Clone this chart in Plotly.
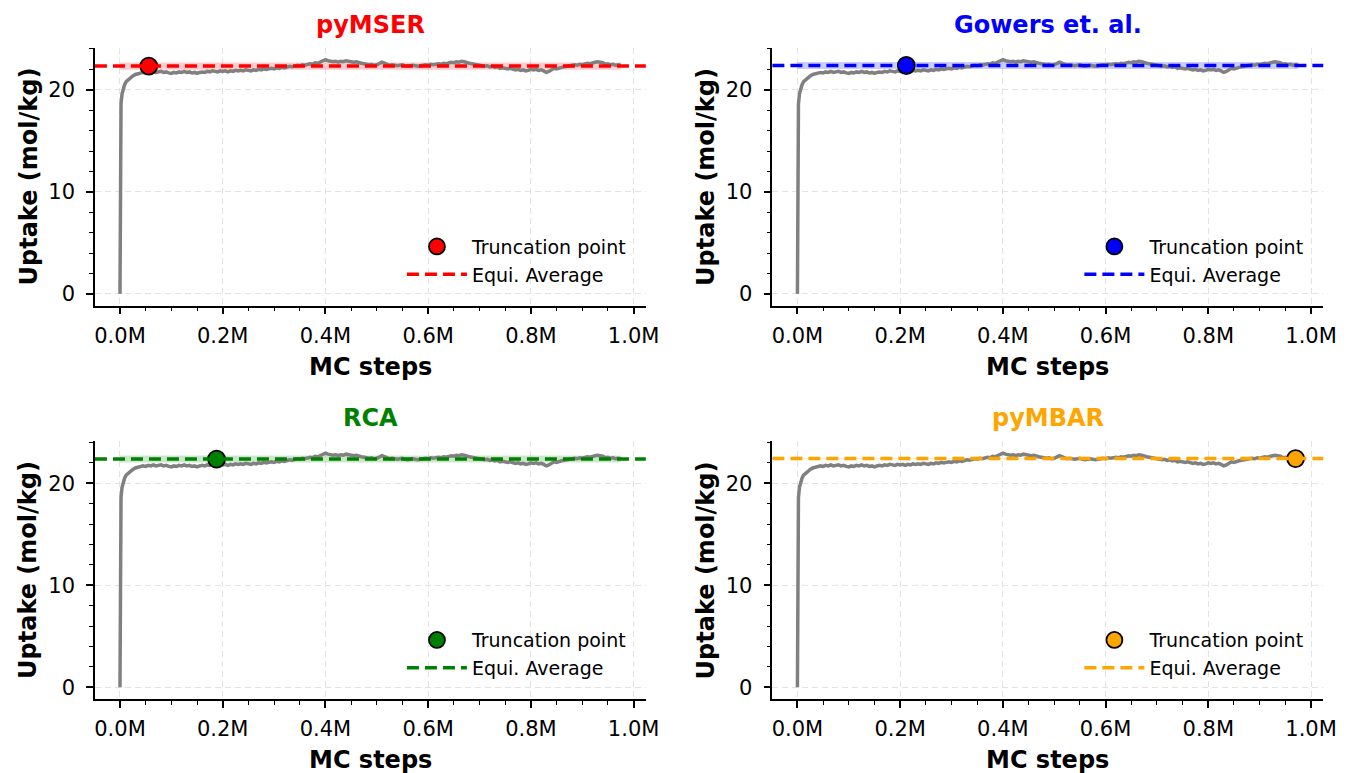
import plotly.graph_objects as go

# ---------------- data ----------------
steps_k = [0, 1, 2, 4, 6, 9, 12, 16, 20, 25, 30, 35, 40, 45, 50, 55, 60, 65, 70, 75,
           80, 85, 90, 95, 100, 105, 110, 115, 120, 125, 130, 135, 140, 145, 150, 155,
           160, 165, 170, 175, 180, 185, 190, 195, 200, 205, 210, 215, 220, 225, 230,
           235, 240, 245, 250, 255, 260, 265, 270, 275, 280, 285, 290, 295, 300, 305,
           310, 315, 320, 325, 330, 335, 340, 345, 350, 355, 360, 365, 370, 375, 380,
           385, 390, 395, 400, 405, 410, 415, 420, 425, 430, 435, 440, 445, 450, 455,
           460, 465, 470, 475, 480, 485, 490, 495, 500, 505, 510, 515, 520, 525, 530,
           535, 540, 545, 550, 555, 560, 565, 570, 575, 580, 585, 590, 595, 600, 605,
           610, 615, 620, 625, 630, 635, 640, 645, 650, 655, 660, 665, 670, 675, 680,
           685, 690, 695, 700, 705, 710, 715, 720, 725, 730, 735, 740, 745, 750, 755,
           760, 765, 770, 775, 780, 785, 790, 795, 800, 805, 810, 815, 820, 825, 830,
           835, 840, 845, 850, 855, 860, 865, 870, 875, 880, 885, 890, 895, 900, 905,
           910, 915, 920, 925, 930, 935, 940, 945, 950, 955, 960, 965, 970, 975]
uptake = [0.0, 16.8, 18.6, 19.6, 20.1, 20.5, 20.8, 21.0, 21.2, 21.35, 21.5, 21.55, 21.6,
          21.7, 21.65, 21.75, 21.7, 21.8, 21.7, 21.75, 21.8, 21.7, 21.75, 21.65, 21.6,
          21.7, 21.65, 21.75, 21.7, 21.8, 21.7, 21.75, 21.65, 21.7, 21.6, 21.7, 21.75,
          21.7, 21.8, 21.75, 21.85, 21.8, 21.75, 21.85, 21.8, 21.85, 21.75, 21.85, 21.8,
          21.9, 21.85, 21.9, 21.85, 21.95, 21.9, 21.85, 21.95, 21.9, 22.0, 21.95, 22.05,
          22.0, 22.05, 22.1, 22.05, 22.15, 22.1, 22.2, 22.15, 22.25, 22.3, 22.25, 22.35,
          22.4, 22.35, 22.45, 22.4, 22.5, 22.55, 22.5, 22.65, 22.6, 22.7, 22.8, 22.95,
          22.85, 22.8, 22.75, 22.8, 22.7, 22.8, 22.75, 22.85, 22.8, 22.75, 22.7, 22.75,
          22.65, 22.6, 22.55, 22.5, 22.45, 22.5, 22.4, 22.45, 22.55, 22.7, 22.6, 22.45,
          22.4, 22.45, 22.4, 22.35, 22.4, 22.45, 22.35, 22.3, 22.35, 22.4, 22.35, 22.3,
          22.35, 22.4, 22.45, 22.4, 22.5, 22.45, 22.5, 22.55, 22.5, 22.6, 22.55, 22.65,
          22.7, 22.65, 22.75, 22.7, 22.8, 22.75, 22.65, 22.6, 22.55, 22.5, 22.45, 22.4,
          22.35, 22.3, 22.35, 22.25, 22.3, 22.2, 22.25, 22.1, 22.15, 22.1, 22.05, 22.1,
          22.0, 21.95, 22.0, 21.9, 21.95, 21.85, 21.9, 22.0, 21.95, 22.0, 21.9, 21.95,
          21.85, 21.7, 21.8, 22.0, 22.1, 22.05, 22.15, 22.2, 22.25, 22.3, 22.35, 22.4,
          22.45, 22.4, 22.5, 22.45, 22.55, 22.6, 22.55, 22.65, 22.7, 22.75, 22.7, 22.65,
          22.5, 22.55, 22.45, 22.5, 22.4, 22.45, 22.4]
steps = [k * 1000 for k in steps_k]

methods = ["pyMSER", "Gowers et. al.", "RCA", "pyMBAR"]
colors = ["red", "blue", "green", "orange"]
fill_colors = ["rgba(255,0,0,0.2)", "rgba(0,0,255,0.2)", "rgba(0,128,0,0.2)", "rgba(255,165,0,0.2)"]
truncation = [56000, 212000, 188000, 970000]
equi_avg = [22.32, 22.38, 22.37, 22.42]
equi_std = [0.36, 0.34, 0.34, 0.05]

x_tickvals = [0, 200000, 400000, 600000, 800000, 1000000]
x_ticktext = ["0.0M", "0.2M", "0.4M", "0.6M", "0.8M", "1.0M"]
y_tickvals = [0, 10, 20]
y_ticktext = ["0", "10", "20"]

# ---------------- layout geometry ----------------
W, H = 1358, 773


def px(v):
    return v / W


def py(v):
    return 1 - v / H


xdom = [[px(95), px(652)], [px(780), px(1337)], [px(95), px(652)], [px(780), px(1337)]]
ydom = [[py(306), py(48)], [py(306), py(48)], [py(700), py(442)], [py(700), py(442)]]
xrange_ = [-48750, 1023750]
yrange_ = [-1.15, 24.1]

FONT = "DejaVu Sans"
fig = go.Figure()
annotations = []
layout = {}

for i in range(4):
    n = "" if i == 0 else str(i + 1)
    xa, ya = "x" + n, "y" + n
    leg = "legend" + n
    # band
    x0, x1 = steps[0], steps[-1]
    fig.add_trace(go.Scatter(x=[x0, x1, x1, x0], y=[equi_avg[i] - equi_std[i]] * 2 + [equi_avg[i] + equi_std[i]] * 2,
                             fill="toself", fillcolor=fill_colors[i], line=dict(width=0),
                             mode="lines", hoverinfo="skip", showlegend=False, xaxis=xa, yaxis=ya))
    # series
    fig.add_trace(go.Scatter(x=steps, y=uptake, mode="lines", line=dict(color="#808080", width=3.5),
                             showlegend=False, xaxis=xa, yaxis=ya))
    # avg line across full axis
    fig.add_shape(type="line", xref=xa + " domain", yref=ya, x0=0, x1=1, y0=equi_avg[i], y1=equi_avg[i],
                  line=dict(color=colors[i], width=3.5, dash="12px,6px"))
    # truncation marker
    fig.add_trace(go.Scatter(x=[truncation[i]], y=[equi_avg[i]], mode="markers", name="Truncation point",
                             marker=dict(color=colors[i], size=17, line=dict(color="black", width=1.8)),
                             legend=leg, xaxis=xa, yaxis=ya))
    # legend entry for avg
    fig.add_trace(go.Scatter(x=[None], y=[None], mode="lines", name="Equi. Average",
                             line=dict(color=colors[i], width=3.5, dash="12px,6px"),
                             legend=leg, xaxis=xa, yaxis=ya))

    common = dict(showline=True, linecolor="black", linewidth=1.5, mirror=False,
                  ticks="outside", ticklen=7, tickwidth=1.5, tickcolor="black",
                  showgrid=True, gridcolor="#e3e3e3", griddash="6px,4px", gridwidth=1,
                  zeroline=False, tickfont=dict(family=FONT, size=21, color="black"))
    layout["xaxis" + n] = dict(domain=xdom[i], anchor=ya, range=xrange_, tickvals=x_tickvals,
                               ticktext=x_ticktext, ticklabelstandoff=3,
                               minor=dict(dtick=50000, tick0=0, ticks="outside", ticklen=4,
                                          tickwidth=1.2, tickcolor="black", showgrid=False),
                               **common)
    layout["yaxis" + n] = dict(domain=ydom[i], anchor=xa, range=yrange_, tickvals=y_tickvals,
                               ticktext=y_ticktext, ticklabelstandoff=7,
                               minor=dict(dtick=2, tick0=0, ticks="outside", ticklen=4,
                                          tickwidth=1.2, tickcolor="black", showgrid=False),
                               **common)
    xc = (xdom[i][0] + xdom[i][1]) / 2
    yc = (ydom[i][0] + ydom[i][1]) / 2
    # title
    annotations.append(dict(text="<b>%s</b>" % methods[i], x=xc, y=ydom[i][1] + 23 / H, xref="paper", yref="paper",
                            xanchor="center", yanchor="middle", showarrow=False,
                            font=dict(family=FONT, size=24, color=colors[i])))
    # x label
    annotations.append(dict(text="<b>MC steps</b>", x=xc, y=ydom[i][0] - 61 / H, xref="paper", yref="paper",
                            xanchor="center", yanchor="middle", showarrow=False,
                            font=dict(family=FONT, size=24, color="black")))
    # y label
    annotations.append(dict(text="<b>Uptake (mol/kg)</b>", x=xdom[i][0] - 67 / W, y=yc, xref="paper", yref="paper",
                            xanchor="center", yanchor="middle", showarrow=False, textangle=-90,
                            font=dict(family=FONT, size=24, color="black")))
    layout[leg] = dict(x=xdom[i][1] - 14 / W, y=ydom[i][0] + 12 / H, xanchor="right", yanchor="bottom",
                       bgcolor="rgba(255,255,255,0)", borderwidth=0,
                       font=dict(family=FONT, size=19, color="black"), traceorder="normal",
                       itemwidth=60, tracegroupgap=0)

fig.update_layout(width=W, height=H, autosize=False, margin=dict(l=0, r=0, t=0, b=0),
                  paper_bgcolor="white", plot_bgcolor="white",
                  annotations=annotations, **layout)

fig.write_html("out.html", default_width="1358px", default_height="773px",
               config={"responsive": False, "displayModeBar": False},
               post_script="document.body.style.margin='0px';document.body.style.overflow='hidden';")
